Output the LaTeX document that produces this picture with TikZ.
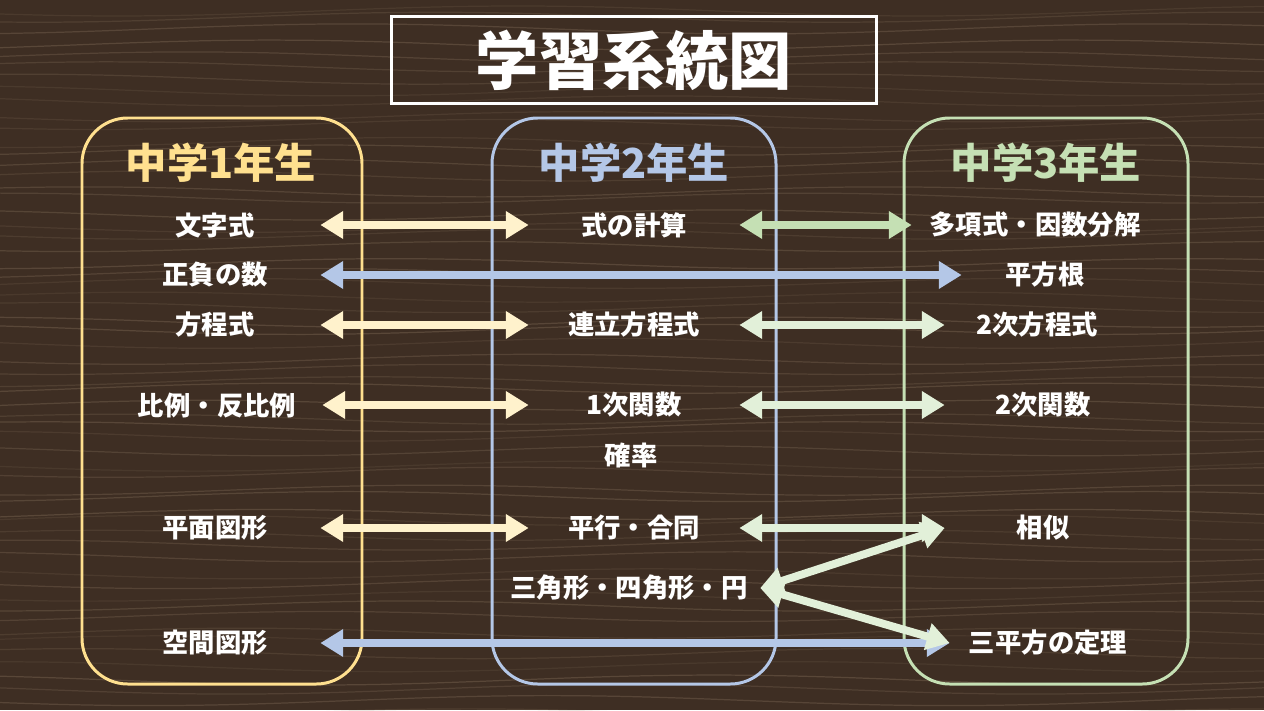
\documentclass[tikz,border=0pt]{standalone}
\usepackage{fontspec}
\setmainfont{Noto Sans CJK JP}
\usetikzlibrary{arrows.meta,positioning}

\definecolor{wood}{HTML}{3E2E23}
\definecolor{grainc}{HTML}{9A836C}
\definecolor{yel}{HTML}{FFE08F}
\definecolor{yelarr}{HTML}{FFF2CC}
\definecolor{blu}{HTML}{B4C7E7}
\definecolor{grn}{HTML}{C5E0B4}
\definecolor{grnarr}{HTML}{E2F0D9}

\tikzset{
  grade/.style={draw=#1, line width=1.7pt, rounded corners=26pt},
  head/.style={text=#1, font=\fontsize{23.5}{28}\selectfont\bfseries},
  item/.style={text=white, font=\fontsize{15}{18}\selectfont\bfseries, inner sep=0pt, minimum height=0.5cm},
  link/.style={draw=#1, line width=4.5pt, {Triangle[length=13pt,width=15pt]}-{Triangle[length=13pt,width=15pt]}},
}

\begin{document}
\begin{tikzpicture}[x=0.02cm, y=-0.02cm]
    \useasboundingbox (0,0) rectangle (1264,710);
    % wood background
    \fill[wood] (0,0) rectangle (1264,710);
    \pgfmathsetseed{7}
    \foreach \k in {1,...,60}{
        \pgfmathsetmacro\yy{\k*12 - 8 + 8*rnd}
        \pgfmathsetmacro\op{0.12 + 0.18*rnd}
        \draw[grainc, opacity=\op, line width=0.7pt] plot[smooth, domain=0:1264, samples=25] (\x, {\yy + 5*sin(\x*0.45 + \k*37)});
    }

    % title
    \node[draw=white, line width=1.7pt, minimum width=9.72cm, minimum height=1.76cm,
          text=white, font=\fontsize{36}{40}\selectfont\bfseries] (title) at (634,60) {学習系統図};

    % grade boxes
    \draw[grade=yel] (82,118) rectangle (362,684);
    \draw[grade=blu] (492,118) rectangle (776,684);
    \draw[grade=grn] (904,118) rectangle (1188,684);

    \node[head=yel] (g1) at (221,163) {中学1年生};
    \node[head=blu] (g2) at (634,163) {中学2年生};
    \node[head=grn] (g3) at (1046,163) {中学3年生};

    % 1st year
    \node[item, minimum width=4.2cm] (a1) at (215,225) {文字式};
    \node[item, minimum width=4.2cm] (a2) at (215,275) {正負の数};
    \node[item, minimum width=4.2cm] (a3) at (215,325) {方程式};
    \node[item, minimum width=4.2cm] (a4) at (217,405) {比例・反比例};
    \node[item, minimum width=4.2cm] (a5) at (215,528) {平面図形};
    \node[item, minimum width=4.2cm] (a6) at (215,643) {空間図形};

    % 2nd year
    \node[item, minimum width=4.2cm] (b1) at (634,225) {式の計算};
    \node[item, minimum width=4.2cm] (b3) at (634,325) {連立方程式};
    \node[item, minimum width=4.2cm] (b4) at (634,405) {1次関数};
    \node[item] (b5) at (631,455) {確率};
    \node[item, minimum width=4.2cm] (b6) at (634,528) {平行・合同};
    \node[item, inner xsep=7pt] (b7) at (629,588) {三角形・四角形・円};

    % 3rd year
    \node[item, minimum width=4.92cm] (c1) at (1035,225) {多項式・因数分解};
    \node[item, minimum width=3.32cm] (c2) at (1045,275) {平方根};
    \node[item, minimum width=3.68cm] (c3) at (1037,325) {2次方程式};
    \node[item, minimum width=3.92cm] (c4) at (1043,405) {2次関数};
    \node[item, minimum width=3.92cm] (c5) at (1043,528) {相似};
    \node[item, minimum width=3.92cm] (c6) at (1048,643) {三平方の定理};

    % links
    \draw[link=blu] (a2.east) -- (c2.west);
    \draw[link=blu] (a6.east) -- (c6.west);
    \draw[link=yelarr] (a1.east) -- (b1.west);
    \draw[link=yelarr] (a3.east) -- (b3.west);
    \draw[link=yelarr] (a4.east) -- (b4.west);
    \draw[link=yelarr] (a5.east) -- (b6.west);
    \draw[link=grn] (b1.east) -- (c1.west);
    \draw[link=grnarr] (b3.east) -- (c3.west);
    \draw[link=grnarr] (b4.east) -- (c4.west);
    \draw[link=grnarr] (b6.east) -- (c5.west);
    \draw[link=grnarr] (b7.east) -- (c5.west);
    \draw[link=grnarr] (b7.east) -- (c6.west);
\end{tikzpicture}
\end{document}
